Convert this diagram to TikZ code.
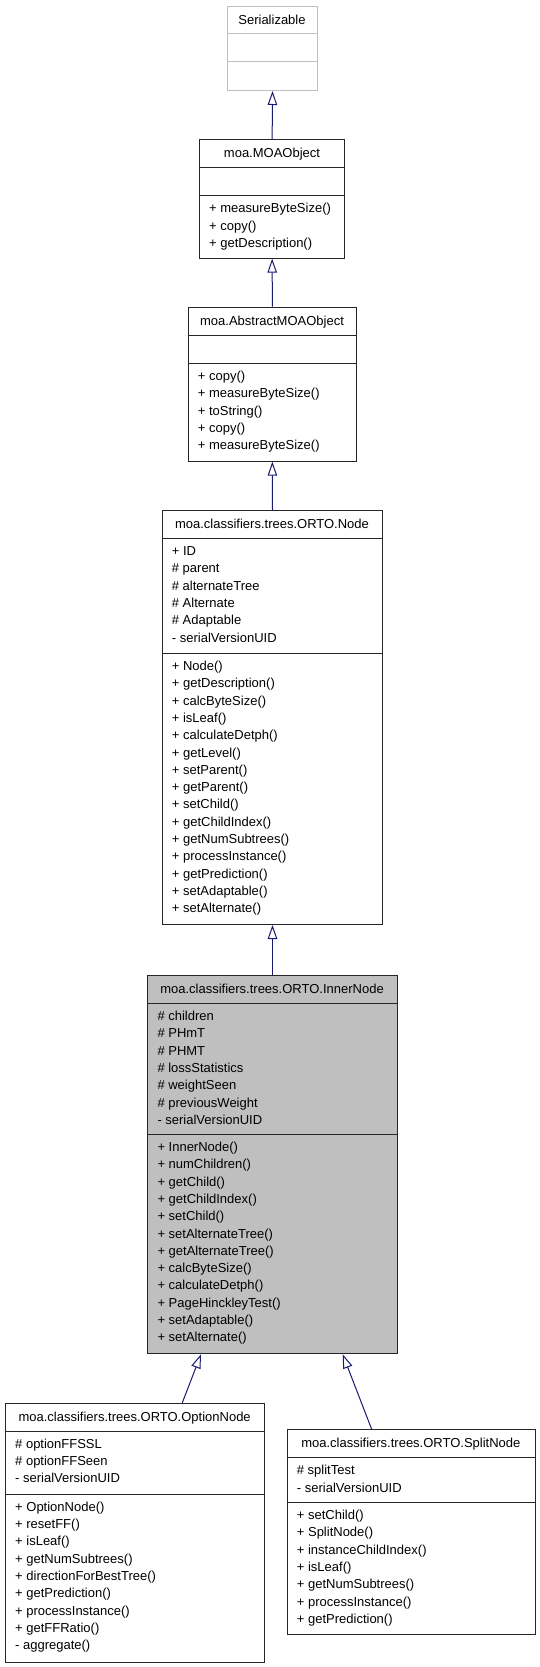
\documentclass[tikz,border=0pt]{standalone}
\usepackage{fontspec}
\setmainfont{Liberation Sans}
\usetikzlibrary{arrows.meta}
\definecolor{edgeblue}{HTML}{191970}
\definecolor{boxgray}{HTML}{BFBFBF}

\begin{document}
\begin{tikzpicture}[x=1pt, y=-1pt, >={Triangle[open, length=14pt, width=9.5pt]},
    font=\fontsize{13}{17.3}\selectfont,
    cls/.style={draw=black!85, line width=1pt, anchor=north west, inner sep=0pt, fill=white},
    sep/.style={draw=black!85, line width=1pt},
    title/.style={anchor=base, inner sep=0pt},
    member/.style={anchor=base west, inner sep=0pt},
    inherit/.style={->, draw=edgeblue, line width=1pt}
  ]
  \useasboundingbox (0,0) rectangle (539,1667);

  % Serializable
  \node[cls, draw=boxgray, minimum width=89.4pt, minimum height=84.3pt] (serial) at (227.3,5.7) {};
  \draw[sep, draw=boxgray] (serial.west |- 0,33.7) -- (serial.east |- 0,33.7);
  \draw[sep, draw=boxgray] (serial.west |- 0,62) -- (serial.east |- 0,62);
  \node[title] (serial-t) at (272,24.3) {Serializable};

  % moa.MOAObject
  \node[cls, minimum width=145.3pt, minimum height=118.7pt] (moaobj) at (199,139) {};
  \draw[sep] (moaobj.west |- 0,167.3) -- (moaobj.east |- 0,167.3);
  \draw[sep] (moaobj.west |- 0,195.7) -- (moaobj.east |- 0,195.7);
  \node[title] (moaobj-t) at (272,157.6) {moa.MOAObject};
  \foreach \m [count=\i from 0] in {+ measureByteSize(), + copy(), + getDescription()}
    \node[member] (moaobj-m\i) at (209,212.9+17.3*\i) {\m};

  % moa.AbstractMOAObject
  \node[cls, minimum width=168.3pt, minimum height=154pt] (absobj) at (187.7,306.7) {};
  \draw[sep] (absobj.west |- 0,335) -- (absobj.east |- 0,335);
  \draw[sep] (absobj.west |- 0,363.3) -- (absobj.east |- 0,363.3);
  \node[title] (absobj-t) at (272,325.3) {moa.AbstractMOAObject};
  \foreach \m [count=\i from 0] in {+ copy(), + measureByteSize(), + toString(), + copy(), + measureByteSize()}
    \node[member] (absobj-m\i) at (197.7,380.5+17.3*\i) {\m};

  % ORTO.Node
  \node[cls, minimum width=220.6pt, minimum height=414pt] (node) at (161.7,510) {};
  \draw[sep] (node.west |- 0,538.3) -- (node.east |- 0,538.3);
  \draw[sep] (node.west |- 0,653.3) -- (node.east |- 0,653.3);
  \node[title] (node-t) at (272,528.6) {moa.classifiers.trees.ORTO.Node};
  \foreach \m [count=\i from 0] in {+ ID, \# parent, \# alternateTree, \# Alternate, \# Adaptable, - serialVersionUID}
    \node[member] (node-a\i) at (171.7,555.5+17.3*\i) {\m};
  \foreach \m [count=\i from 0] in {+ Node(), + getDescription(), + calcByteSize(), + isLeaf(),
      + calculateDetph(), + getLevel(), + setParent(), + getParent(), + setChild(), + getChildIndex(),
      + getNumSubtrees(), + processInstance(), + getPrediction(), + setAdaptable(), + setAlternate()}
    \node[member] (node-m\i) at (171.7,670.5+17.3*\i) {\m};

  % ORTO.InnerNode
  \node[cls, fill=boxgray, minimum width=249.4pt, minimum height=378.3pt] (inner) at (147.3,975) {};
  \draw[sep] (inner.west |- 0,1003.3) -- (inner.east |- 0,1003.3);
  \draw[sep] (inner.west |- 0,1134.3) -- (inner.east |- 0,1134.3);
  \node[title] (inner-t) at (272,993.6) {moa.classifiers.trees.ORTO.InnerNode};
  \foreach \m [count=\i from 0] in {\# children, \# PHmT, \# PHMT, \# lossStatistics, \# weightSeen,
      \# previousWeight, - serialVersionUID}
    \node[member] (inner-a\i) at (157.3,1020.5+17.3*\i) {\m};
  \foreach \m [count=\i from 0] in {+ InnerNode(), + numChildren(), + getChild(), + getChildIndex(),
      + setChild(), + setAlternateTree(), + getAlternateTree(), + calcByteSize(), + calculateDetph(),
      + PageHinckleyTest(), + setAdaptable(), + setAlternate()}
    \node[member] (inner-m\i) at (157.3,1151.5+17.3*\i) {\m};

  % ORTO.OptionNode
  \node[cls, minimum width=259.3pt, minimum height=259pt] (option) at (5,1402.7) {};
  \draw[sep] (option.west |- 0,1431) -- (option.east |- 0,1431);
  \draw[sep] (option.west |- 0,1494) -- (option.east |- 0,1494);
  \node[title] (option-t) at (134.65,1421.3) {moa.classifiers.trees.ORTO.OptionNode};
  \foreach \m [count=\i from 0] in {\# optionFFSSL, \# optionFFSeen, - serialVersionUID}
    \node[member] (option-a\i) at (15,1448.2+17.3*\i) {\m};
  \foreach \m [count=\i from 0] in {+ OptionNode(), + resetFF(), + isLeaf(), + getNumSubtrees(),
      + directionForBestTree(), + getPrediction(), + processInstance(), + getFFRatio(), - aggregate()}
    \node[member] (option-m\i) at (15,1511.2+17.3*\i) {\m};

  % ORTO.SplitNode
  \node[cls, minimum width=248.3pt, minimum height=205pt] (split) at (286.7,1429.3) {};
  \draw[sep] (split.west |- 0,1457.7) -- (split.east |- 0,1457.7);
  \draw[sep] (split.west |- 0,1502.3) -- (split.east |- 0,1502.3);
  \node[title] (split-t) at (410.85,1447.9) {moa.classifiers.trees.ORTO.SplitNode};
  \foreach \m [count=\i from 0] in {\# splitTest, - serialVersionUID}
    \node[member] (split-a\i) at (296.7,1474.9+17.3*\i) {\m};
  \foreach \m [count=\i from 0] in {+ setChild(), + SplitNode(), + instanceChildIndex(), + isLeaf(),
      + getNumSubtrees(), + processInstance(), + getPrediction()}
    \node[member] (split-m\i) at (296.7,1519.5+17.3*\i) {\m};

  % inheritance
  \draw[inherit] (moaobj.north) -- (serial.south);
  \draw[inherit] (absobj.north) -- (moaobj.south);
  \draw[inherit] (node.north) -- (absobj.south);
  \draw[inherit] (inner.north) -- (node.south);
  \draw[inherit] ([xshift=177.3pt]option.north west) -- ([xshift=53.7pt]inner.south west);
  \draw[inherit] ([xshift=85pt]split.north west) -- ([xshift=195.4pt]inner.south west);
\end{tikzpicture}
\end{document}
